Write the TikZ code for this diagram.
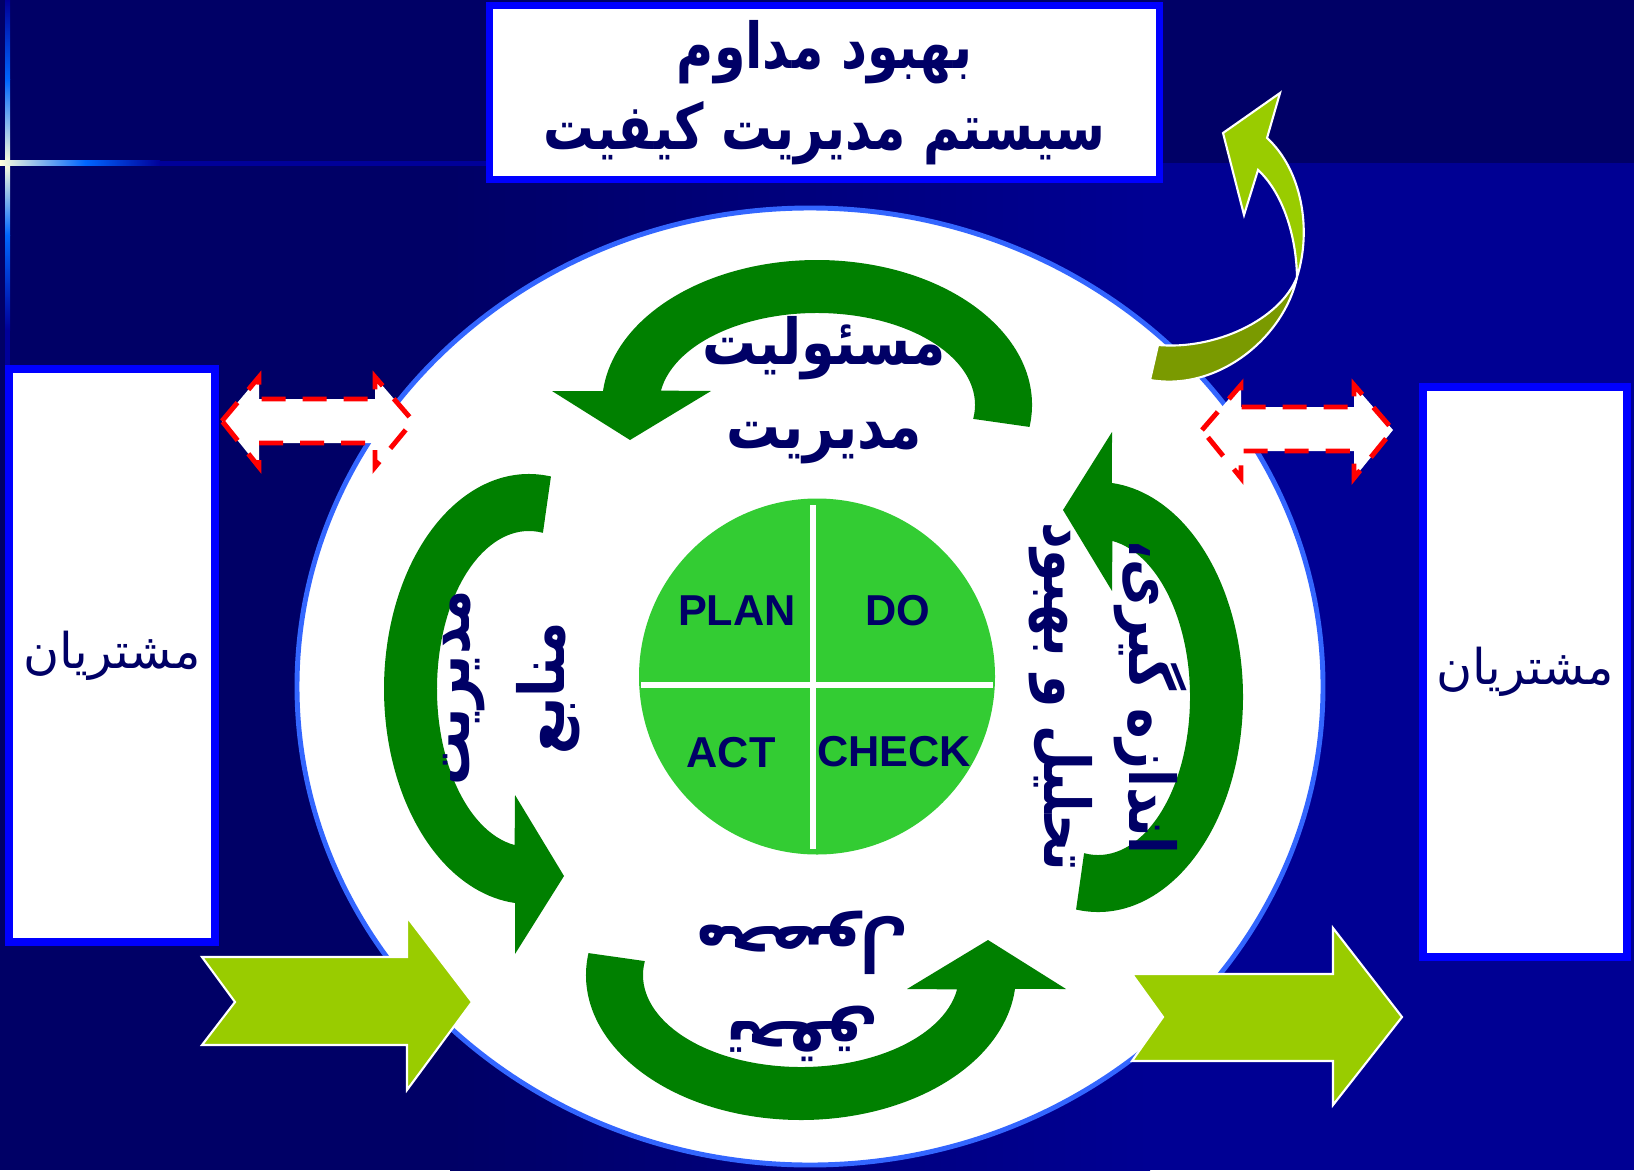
\documentclass[tikz,border=0pt]{standalone}
\usepackage{fontspec}
\usepackage{graphicx}
\usepackage{tikz}
\setmainfont{Liberation Sans}
\newfontfamily\arabicfont[Script=Arabic]{DejaVu Sans}
\TeXXeTstate=1
% right-to-left line, narrowed to the width of the original face
\newcommand{\fa}[2][0.85]{\scalebox{#1}[1]{\beginR #2\endR}}

\definecolor{bgdark}{HTML}{000066}
\definecolor{bglight}{HTML}{000093}
\definecolor{frameblue}{HTML}{0000FF}
\definecolor{ringblue}{HTML}{3366FF}
\definecolor{textnavy}{HTML}{000066}
\definecolor{cyclegreen}{HTML}{008000}
\definecolor{pdcagreen}{HTML}{33CC33}
\definecolor{limegreen}{HTML}{99CC00}
\definecolor{olivegreen}{HTML}{7A9A00}
\definecolor{glowblue}{HTML}{0066FF}
\definecolor{glowcream}{HTML}{FFFFDD}
\definecolor{glowdark}{HTML}{000099}

\tikzset{
  titlebox/.style={draw=frameblue, line width=2pt, fill=white, inner sep=0pt,
    minimum width=6.70cm, minimum height=1.74cm, align=center, text=textnavy,
    font=\arabicfont\bfseries\fontsize{18}{23}\selectfont},
  custbox/.style={draw=frameblue, line width=2.3pt, fill=white, inner sep=0pt,
    text=textnavy, font=\arabicfont\fontsize{14}{17}\selectfont},
  farsi/.style={text=textnavy, align=center, inner sep=0pt,
    font=\arabicfont\bfseries\fontsize{18}{24}\selectfont},
  widefarsi/.style={farsi, font=\arabicfont\bfseries\fontsize{18}{27}\selectfont},
  pdca/.style={text=textnavy, inner sep=0pt, font=\bfseries\fontsize{12.3}{14}\selectfont},
  crossline/.style={draw=white, line width=1.7pt},
  linkarrow/.style={fill=white, draw=red, line width=1.4pt, dash pattern=on 0.24cm off 0.17cm},
  flowarrow/.style={fill=limegreen, draw=white, line width=0.6pt},
  pics/cyclearrow/.style={code={
    \fill[cyclegreen] (-8.7:215 and 145)
      arc[start angle=-8.7, end angle=174.5, x radius=215, y radius=145]
      -- (-265,14) -- (-187,-35) -- (-106,14)
      -- (171:158 and 92)
      arc[start angle=171, end angle=-8.7, x radius=158, y radius=92] -- cycle;
  }}
}

\begin{document}
\begin{tikzpicture}[x=0.01cm, y=0.01cm]

    % Background
    \useasboundingbox (0,0) rectangle (1634,-1170);
    \fill[bgdark] (0,0) rectangle (1634,-1170);
    \shade[left color=bgdark, right color=bglight] (450,-163) rectangle (1150,-1170);
    \fill[bglight] (1150,-163) rectangle (1634,-1170);

    % Glow lines at the left edge
    \shade[top color=glowdark, bottom color=glowblue] (5,0) rectangle (10,-80);
    \shade[top color=glowblue, bottom color=glowcream] (5,-80) rectangle (10,-163);
    \shade[top color=glowcream, bottom color=glowblue] (5,-163) rectangle (10,-235);
    \shade[top color=glowblue, bottom color=glowdark] (5,-235) rectangle (10,-330);
    \fill[glowdark] (5,-330) rectangle (10,-365);
    \shade[left color=glowcream, right color=glowblue] (0,-161) rectangle (85,-166);
    \shade[left color=glowblue, right color=glowdark] (85,-161) rectangle (160,-166);
    \fill[glowdark] (160,-161) rectangle (486,-166);

    % Boxes
    \node[titlebox] (title) at (824.5,-92.5)
      {\fa[0.8]{بهبود مداوم}\\\fa[0.8]{سیستم مدیریت کیفیت}};
    \node[custbox, minimum width=2.06cm, minimum height=5.73cm] (custL) at (112,-655.5)
      {\fa[1]{مشتریان}};
    \node[custbox, minimum width=2.04cm, minimum height=5.70cm] (custR) at (1525,-672)
      {\fa[1]{مشتریان}};

    % Ring and cycle arrows
    \draw[draw=ringblue, line width=1.4pt, fill=white] (810,-686.5) ellipse [x radius=513, y radius=478.5];
    \pic at (817,-405) {cyclearrow};
    \pic[rotate=90] at (529,-689) {cyclearrow};
    \pic[rotate=180] at (801,-975) {cyclearrow};
    \pic[rotate=-90] at (1098,-697) {cyclearrow};

    % PDCA disc
    \fill[pdcagreen] (817,-676.5) circle [radius=178];
    \draw[crossline] (813,-505) -- (813,-849);
    \draw[crossline] (641,-685) -- (993,-685);
    \node[pdca] (plan)  at (737,-611) {PLAN};
    \node[pdca] (do)    at (898,-611) {DO};
    \node[pdca] (act)   at (731,-753) {ACT};
    \node[pdca] (check) at (894,-752) {CHECK};

    % Labels on the cycle
    \node[farsi] (mgmt) at (824,-390) {\fa{مسئولیت}\\\fa{مدیریت}};
    \node[widefarsi, rotate=90] (resource) at (512,-688) {\fa{مدیریت}\\\fa{منابع}};
    \node[farsi, rotate=-90] (measure) at (1108,-697) {\fa[0.82]{اندازه گیری،}\\\fa[0.82]{تحلیل و بهبود}};
    \node[widefarsi, rotate=180] (realize) at (802,-986) {\fa[0.88]{تحقق}\\\fa[0.88]{محصول}};

    % Links to the customers
    \draw[linkarrow] (222,-421) -- (259,-377) -- (259,-399) -- (375,-399) -- (375,-377)
      -- (413,-421) -- (375,-467) -- (375,-443) -- (259,-443) -- (259,-467) -- cycle;
    \draw[linkarrow] (1202,-430) -- (1241,-385) -- (1241,-407) -- (1354,-407) -- (1354,-385)
      -- (1393,-430) -- (1354,-478) -- (1354,-451) -- (1241,-451) -- (1241,-478) -- cycle;

    % Input and output arrows
    \draw[flowarrow] (202,-957) -- (407,-957) -- (407,-917) -- (472,-1002) -- (407,-1090)
      -- (407,-1045) -- (202,-1045) -- (235,-1002) -- cycle;
    \draw[flowarrow] (1132,-974) -- (1333,-974) -- (1333,-928) -- (1402,-1017) -- (1333,-1105)
      -- (1333,-1061) -- (1132,-1061) -- (1163,-1017) -- cycle;

    % Curved improvement arrow
    \filldraw[fill=olivegreen, draw=white, line width=0.6pt] (1297,-277)
      .. controls (1285,-335) and (1220,-392) .. (1150,-380) -- (1158,-345)
      .. controls (1215,-350) and (1280,-320) .. (1297,-277) -- cycle;
    \filldraw[fill=limegreen, draw=white, line width=0.6pt] (1267,-138) -- (1280,-93) -- (1223,-133)
      -- (1244,-215) -- (1258,-170) .. controls (1280,-190) and (1296,-230) .. (1297,-277)
      .. controls (1312,-230) and (1302,-170) .. (1267,-138) -- cycle;

\end{tikzpicture}
\end{document}
